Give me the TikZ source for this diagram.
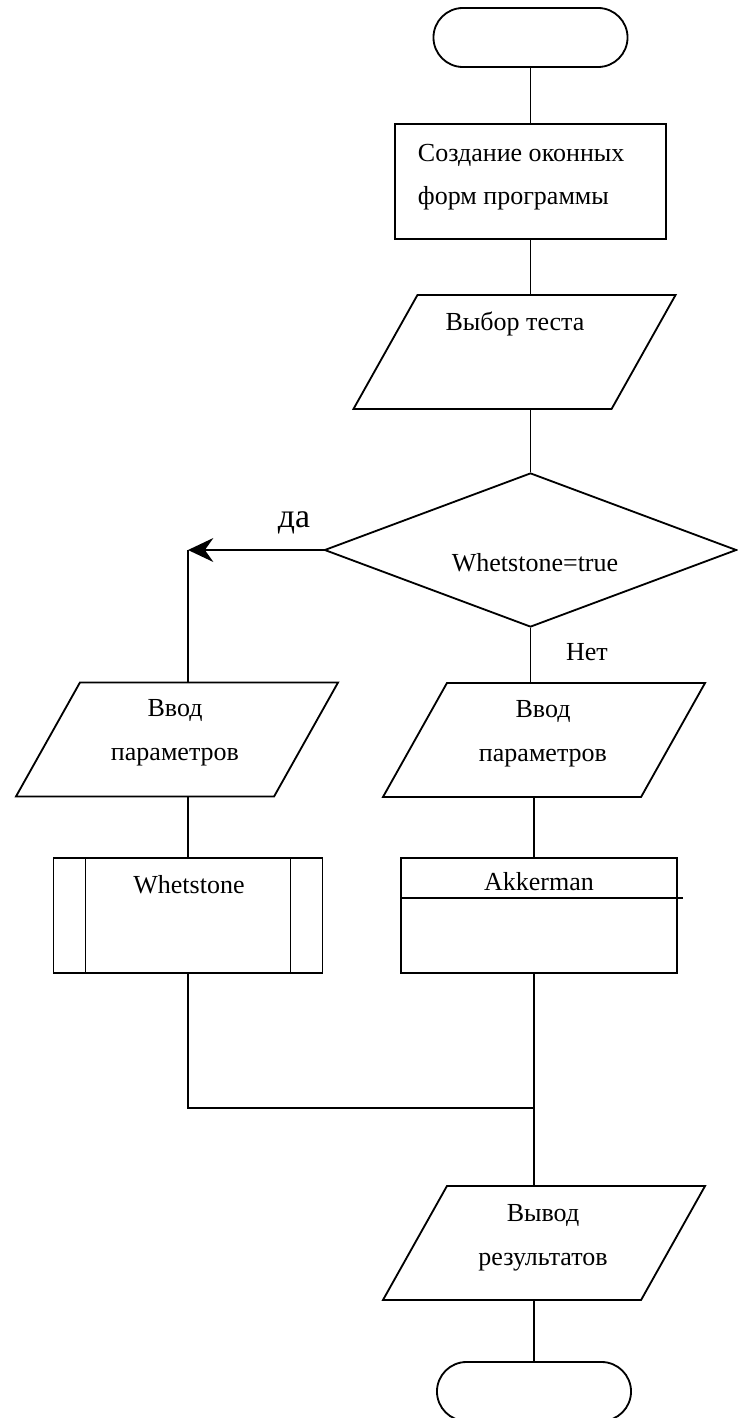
\documentclass[tikz,border=0pt]{standalone}
\usepackage{fontspec}
\setmainfont{Liberation Serif}
\usepackage{tikz}
\usetikzlibrary{arrows.meta, shapes.geometric, shapes.misc, calc}

\begin{document}
\begin{tikzpicture}[x=0.025cm, y=-0.025cm, line width=1.3pt,
    term/.style={draw, rounded rectangle, minimum width=4.85cm, minimum height=1.475cm, inner sep=0pt},
    proc/.style={draw, rectangle, minimum width=6.775cm, minimum height=2.875cm, inner sep=0pt},
    io/.style={draw, trapezium, trapezium left angle=60.7, trapezium right angle=119.3,
               trapezium stretches body, text height=2.85cm, text depth=0pt,
               minimum width=8.05cm, inner sep=0pt},
    cond/.style={draw, diamond, minimum width=10.3cm, minimum height=3.85cm, inner sep=0pt},
    sub/.style={draw, rectangle, minimum height=2.875cm, inner sep=0pt},
    txt/.style={font=\fontsize{18.5}{31}\selectfont, align=center, inner sep=0pt},
    flow/.style={-{Stealth[length=18pt, width=17pt, inset=6pt]}},
]
    \useasboundingbox (0,0) rectangle (737,1418);

    % === top ===
    \node[term] (start) at (530.5,37.5) {};
    \node[proc] (forms) at (530.5,181.5) {};
    \node[txt, align=left, anchor=west] (formstxt) at (417,177) {Создание оконных\\форм программы};
    \node[io] (choose) at (514.5,352) {};
    \node[txt] (choosetxt) at (515,324) {Выбор теста};

    % === decision ===
    \node[cond] (test) at (530.5,550) {};
    \node[txt] (testtxt) at (535,563) {Whetstone=true};
    \coordinate (yes) at (188,550);
    \node[font=\fontsize{24}{28}\selectfont, inner sep=0pt] (yestxt) at (294,523) {да};
    \node[txt] (notxt) at (587,652) {Нет};

    % === Whetstone branch ===
    \node[io] (inw) at (177,739.5) {};
    \node[txt] (inwtxt) at (175,733) {Ввод\\параметров};
    \node[sub, minimum width=6.725cm] (whet) at (188,915.5) {};
    \node[txt] (whettxt) at (189,885) {Whetstone};

    % === Akkerman branch ===
    \node[io] (ina) at (544,740) {};
    \node[txt] (inatxt) at (543,734) {Ввод\\параметров};
    \node[sub, minimum width=6.9cm] (akk) at (539,915.5) {};
    \node[txt] (akktxt) at (539,882) {Akkerman};

    % === output ===
    \coordinate (join) at (534,1108);
    \node[io] (out) at (544,1243) {};
    \node[txt] (outtxt) at (543,1238) {Вывод\\результатов};
    \node[term] (stop) at (534,1391.5) {};

    % connectors
    \draw (start) -- (forms);
    \draw (forms) -- (forms.south |- choose.north);
    \draw (forms.south |- choose.south) -- (test.north);
    \draw[flow] (test.west) -- (yes);
    \draw (yes) -- (yes |- inw.north);
    \draw (test.south) -- (test.south |- ina.north);
    \draw (yes |- inw.south) -- (whet.north);
    \draw (join |- ina.south) -- (join |- akk.north);
    \draw (whet.south) -- (whet.south |- join) -- (join);
    \draw (join |- akk.south) -- (join |- out.north);
    \draw (join |- out.south) -- (stop.north);

    % subroutine bars
    \draw ([xshift=0.825cm]whet.north west) -- ([xshift=0.825cm]whet.south west);
    \draw ([xshift=-0.825cm]whet.north east) -- ([xshift=-0.825cm]whet.south east);
    \draw ([yshift=-1.025cm]akk.north west) -- ([shift={(0.125cm,-1.025cm)}]akk.north east);
\end{tikzpicture}
\end{document}
